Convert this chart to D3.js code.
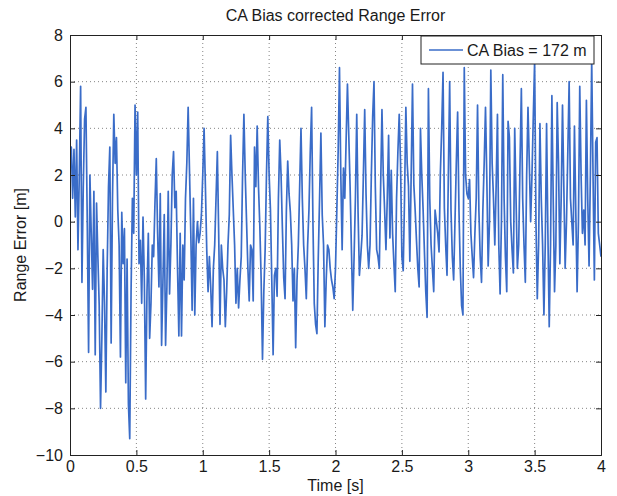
<!DOCTYPE html>
<html>
<head>
<meta charset="utf-8">
<script src="https://cdn.jsdelivr.net/npm/d3@7"></script>
<style>
  body { margin: 0; background: #fff; }
  svg text { font-family: "Liberation Sans", Arial, Helvetica, sans-serif; fill: #1a1a1a; }
</style>
</head>
<body>
<script>
// range error samples, one every 10 ms
var dt = 0.01;
var err0to1 = [
  2.5,3.2,1.0,3.1,0.2,3.5,-1.2,2.0,5.8,-2.6,
  1.5,4.4,4.9,0.0,-5.6,2.0,-0.5,-2.9,1.3,-5.7,
  0.8,-1.5,-3.6,-8.0,-5.0,-1.2,-3.5,-7.3,-2.0,1.5,
  3.2,-5.2,1.0,4.6,2.5,3.6,0.5,-1.0,-5.8,0.4,
  -1.8,-0.3,-6.9,-1.6,-7.8,-9.3,-3.0,1.0,-0.5,5.0,
  2.0,4.7,-1.8,-0.8,-3.5,0.2,-2.5,-7.6,-3.0,-0.5,
  -5.0,-3.5,-1.0,-1.5,0.8,2.7,-0.5,-2.8,1.2,-5.3,
  -2.6,0.3,-5.3,-2.8,1.3,-3.1,-1.0,2.0,3.0,0.6,
  1.3,-2.0,-4.9,-0.5,-4.9,-1.0,-2.5,1.0,2.5,4.9,
  2.2,-0.5,-3.8,1.0,-4.0,-1.0,0.0,-0.9,-0.5,0.3
];
var err1to2 = [
  2.0,4.0,1.5,-1.2,-3.0,-1.5,-2.8,-4.5,-2.0,-1.0,
  1.0,3.0,-0.5,-4.4,-1.0,-2.0,-2.5,-4.5,-3.0,-1.0,
  0.3,3.7,2.0,0.5,-1.0,-3.5,-2.0,-3.7,-2.5,-1.5,
  2.0,4.6,2.0,0.0,-2.0,-3.4,-1.0,-1.2,-3.4,3.2,
  1.5,4.1,1.5,-0.2,-2.5,-5.9,-3.0,-1.2,2.0,4.5,
  2.0,0.5,-2.5,-5.7,-2.3,-2.0,-3.2,1.0,3.5,2.0,
  -0.3,-2.4,-3.3,0.5,2.6,1.2,0.4,-1.0,-3.4,-2.0,
  -5.4,-2.5,-1.0,1.5,4.0,1.0,-1.0,-2.0,-3.3,-1.0,
  0.5,3.0,4.9,0.0,-3.5,-4.4,-4.8,-1.6,1.0,3.8,
  0.3,-1.0,-4.5,-2.5,-1.0,-1.2,-2.0,-2.5,-2.8,-3.3
];
var err2to3 = [
  -2.0,0.5,3.0,6.6,2.0,-1.2,2.3,1.0,3.5,5.9,
  3.7,1.5,-1.2,-3.8,-1.5,1.0,4.6,0.4,-2.3,-1.5,
  -0.6,2.0,4.8,1.2,-1.0,-2.0,-1.0,2.0,4.5,6.0,
  1.5,-1.2,-1.5,-2.0,1.5,4.8,2.0,0.5,-1.2,1.0,
  3.7,-0.7,2.2,-0.5,-1.8,-3.0,1.0,3.0,4.6,2.5,
  -1.5,-2.1,1.0,4.9,2.5,1.5,-1.7,2.0,5.9,1.6,
  0.5,-0.8,-2.0,-2.8,4.0,2.0,0.5,-1.3,-3.0,-4.1,
  5.7,1.0,-1.0,-2.0,-3.0,0.5,0.0,-0.5,-1.3,2.1,
  4.0,6.4,0.6,-1.0,-2.3,2.0,6.0,0.5,-1.5,-2.5,
  0.0,2.5,4.7,0.5,-2.0,-3.6,-4.0,6.6,2.0,1.2
];
var err3to4 = [
  1.0,1.8,-0.5,-1.5,-2.4,-0.5,1.0,5.0,0.5,-1.5,
  -2.6,0.5,2.5,4.9,1.8,-1.9,0.0,6.5,2.5,1.0,
  -1.0,1.5,4.6,-1.0,-3.1,0.0,6.3,1.0,-1.5,-3.0,
  4.3,3.6,0.0,-1.2,-2.2,4.0,1.0,-2.0,-1.0,2.5,
  5.7,1.0,-1.0,-2.6,2.0,4.9,2.5,0.0,2.0,4.5,
  6.9,0.0,-3.3,-1.0,4.2,1.0,-1.0,-4.0,-1.0,4.2,
  -0.5,-4.5,-1.0,5.4,1.0,-3.0,-1.0,5.1,2.5,-1.8,
  1.0,5.0,1.5,-2.0,0.0,3.0,6.0,1.0,0.0,-1.0,
  4.1,0.5,-3.0,0.0,5.8,2.0,-0.5,0.5,-1.0,5.2,
  1.0,-1.9,2.0,6.9,2.0,-2.5,3.4,3.6,-0.5,-1.0,
  -1.5
];
var xTicks = [0, 0.5, 1, 1.5, 2, 2.5, 3, 3.5, 4];
var yTicks = [-10, -8, -6, -4, -2, 0, 2, 4, 6, 8];
var legendLabel = "CA Bias = 172 m";

var rangeError = err0to1.concat(err1to2, err2to3, err3to4);
var data = rangeError.map(function(v, i) { return {t: i * dt, v: v}; });

var margin = {top: 35, right: 16, bottom: 41, left: 70},
    width = 617 - margin.left - margin.right,
    height = 496 - margin.top - margin.bottom;

var svg = d3.select("body").append("svg")
    .attr("width", 617)
    .attr("height", 496);

var g = svg.append("g")
    .attr("transform", "translate(" + margin.left + "," + margin.top + ")");

var x = d3.scaleLinear().domain([0, 4]).range([0, width]);
var y = d3.scaleLinear().domain([-10, 8]).range([height, 0]);

// dotted grid
g.append("g").selectAll("line.vg")
    .data(xTicks.slice(1, -1))
  .enter().append("line")
    .attr("x1", d => x(d)).attr("x2", d => x(d))
    .attr("y1", 0).attr("y2", height)
    .attr("stroke", "#777").attr("stroke-width", 0.9)
    .attr("stroke-dasharray", "1,3");
g.append("g").selectAll("line.hg")
    .data(yTicks.slice(1, -1))
  .enter().append("line")
    .attr("y1", d => y(d)).attr("y2", d => y(d))
    .attr("x1", 0).attr("x2", width)
    .attr("stroke", "#777").attr("stroke-width", 0.9)
    .attr("stroke-dasharray", "1,3");

// the signal
g.append("clipPath").attr("id", "plotclip")
  .append("rect").attr("width", width).attr("height", height);

var line = d3.line()
    .x(d => x(d.t))
    .y(d => y(d.v));

g.append("path")
    .datum(data)
    .attr("clip-path", "url(#plotclip)")
    .attr("fill", "none")
    .attr("stroke", "#3a6cc8")
    .attr("stroke-width", 1.7)
    .attr("stroke-linejoin", "round")
    .attr("d", line);

// axes with inward ticks on all four sides
var fmt = d3.format("");
g.append("g")
    .attr("transform", "translate(0," + height + ")")
    .call(d3.axisBottom(x).tickValues(xTicks).tickSize(-5).tickPadding(6).tickFormat(fmt))
    .call(a => a.selectAll("text").attr("font-size", 16));
g.append("g")
    .call(d3.axisLeft(y).tickValues(yTicks).tickSize(-5).tickPadding(7).tickFormat(fmt))
    .call(a => a.selectAll("text").attr("font-size", 16));
g.append("g")
    .call(d3.axisTop(x).tickValues(xTicks).tickSize(-5).tickFormat(""));
g.append("g")
    .attr("transform", "translate(" + width + ",0)")
    .call(d3.axisRight(y).tickValues(yTicks).tickSize(-5).tickFormat(""));
g.selectAll(".domain").attr("stroke", "#222");
g.selectAll(".tick line").attr("stroke", "#222");

// legend
var legend = g.append("g").attr("transform", "translate(351,1)");
legend.append("rect")
    .attr("width", 173).attr("height", 28)
    .attr("fill", "#fff").attr("stroke", "#222");
legend.append("line")
    .attr("x1", 8).attr("x2", 42).attr("y1", 14).attr("y2", 14)
    .attr("stroke", "#3a6cc8").attr("stroke-width", 1.4);
legend.append("text")
    .attr("x", 46).attr("y", 20)
    .attr("font-size", 16)
    .text(legendLabel);

// titles
svg.append("text")
    .attr("x", margin.left + width / 2).attr("y", 21)
    .attr("text-anchor", "middle").attr("font-size", 16)
    .text("CA Bias corrected Range Error");
svg.append("text")
    .attr("x", margin.left + width / 2).attr("y", 491)
    .attr("text-anchor", "middle").attr("font-size", 16)
    .text("Time [s]");
svg.append("text")
    .attr("transform", "translate(26," + (margin.top + height / 2) + ") rotate(-90)")
    .attr("text-anchor", "middle").attr("font-size", 16)
    .text("Range Error [m]");
</script>
</body>
</html>
